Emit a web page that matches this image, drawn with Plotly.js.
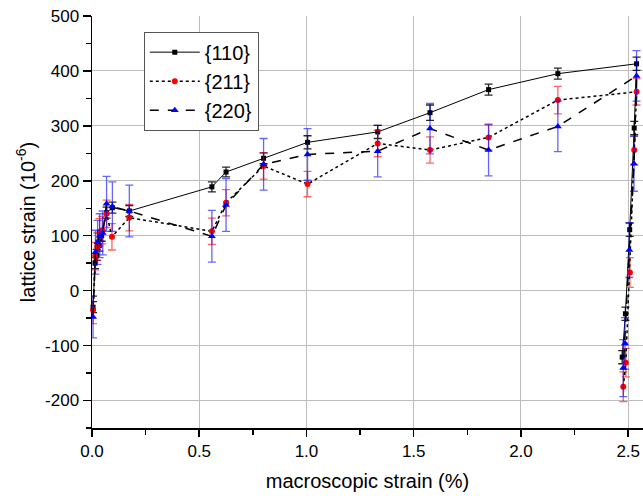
<!DOCTYPE html>
<html>
<head>
<meta charset="utf-8">
<script src="https://cdn.plot.ly/plotly-3.0.1.min.js"></script>
<style>html,body{margin:0;padding:0;background:#fff;}#chart{width:643px;height:496px;}</style>
</head>
<body>
<div id="chart"></div>
<script>
// {110}
const x110 = [0.005, 0.014, 0.022, 0.034, 0.045, 0.068, 0.095, 0.174, 0.559, 0.625, 0.800, 1.005, 1.332, 1.576, 1.849, 2.172, 2.539, 2.528, 2.507, 2.487, 2.472];
const y110 = [-30, 50, 65, 82, 100, 142, 151, 145, 189, 216, 241, 270, 289, 324, 366, 395, 413, 296, 111, -42, -121];
const e110 = [10, 10, 10, 10, 10, 10, 10, 10, 9, 9, 10, 12, 12, 14, 10, 10, 12, 12, 12, 12, 12];
// {211}
const x211 = [0.005, 0.015, 0.025, 0.035, 0.048, 0.068, 0.093, 0.174, 0.559, 0.625, 0.800, 1.005, 1.332, 1.576, 1.849, 2.172, 2.539, 2.528, 2.508, 2.489, 2.477];
const y211 = [-35, 63, 80, 106, 110, 140, 98, 133, 108, 160, 227, 194, 268, 256, 279, 347, 362, 256, 33, -131, -175];
const e211 = [25, 25, 25, 25, 25, 25, 24, 24, 24, 24, 24, 23, 24, 24, 23, 25, 24, 26, 27, 26, 27];
// {220}
const x220 = [0.005, 0.016, 0.026, 0.036, 0.05, 0.068, 0.095, 0.174, 0.559, 0.625, 0.800, 1.005, 1.332, 1.576, 1.849, 2.172, 2.539, 2.527, 2.505, 2.485, 2.477];
const y220 = [-48, 70, 88, 100, 105, 158, 153, 145, 99, 156, 230, 248, 254, 295, 256, 299, 391, 231, 74, -96, -141];
const e220 = [38, 40, 40, 40, 40, 50, 45, 47, 47, 48, 47, 47, 47, 46, 47, 46, 46, 50, 50, 47, 52];

const names = ['{110}', '{211}', '{220}'];
// tick labels
const yTickVals = [-200, -100, 0, 100, 200, 300, 400, 500];
const yTickText = ['-200', '-100', '0', '100', '200', '300', '400', '500'];
const xTickVals = [0, 0.5, 1.0, 1.5, 2.0, 2.5];
const xTickText = ['0.0', '0.5', '1.0', '1.5', '2.0', '2.5'];

const FONT = 'Liberation Sans, Arial, sans-serif';

const traces = [
  {
    x: x110, y: y110, name: names[0], type: 'scatter', mode: 'lines+markers',
    line: {color: '#000', width: 1},
    marker: {symbol: 'square', size: 5, color: '#000'},
    error_y: {type: 'data', array: e110, visible: true, color: 'rgba(0,0,0,0.85)', thickness: 1.3, width: 4},
    cliponaxis: false
  },
  {
    x: x211, y: y211, name: names[1], type: 'scatter', mode: 'lines+markers',
    line: {color: '#000', width: 1.5, dash: 'dot'},
    marker: {symbol: 'circle', size: 6, color: '#ff0000'},
    error_y: {type: 'data', array: e211, visible: true, color: 'rgba(255,0,0,0.6)', thickness: 1.3, width: 4},
    cliponaxis: false
  },
  {
    x: x220, y: y220, name: names[2], type: 'scatter', mode: 'lines+markers',
    line: {color: '#000', width: 1.5, dash: 'dash'},
    marker: {symbol: 'triangle-up', size: 7, color: '#0000ff'},
    error_y: {type: 'data', array: e220, visible: true, color: 'rgba(0,0,255,0.6)', thickness: 1.3, width: 4},
    cliponaxis: false
  }
];

const layout = {
  width: 643, height: 496,
  margin: {l: 92, r: 0, t: 16, b: 68},
  paper_bgcolor: '#fff', plot_bgcolor: '#fff',
  font: {family: FONT, color: '#000', size: 17},
  showlegend: true,
  legend: {
    x: 0.094, y: 0.962, xanchor: 'left', yanchor: 'top',
    bgcolor: '#fff', bordercolor: '#555', borderwidth: 1,
    font: {family: FONT, size: 20, color: '#000'},
    itemwidth: 50,
    tracegroupgap: 0
  },
  xaxis: {
    range: [0, 2.569], tickmode: 'array', tickvals: xTickVals, ticktext: xTickText,
    showline: true, linecolor: '#000', linewidth: 1.5,
    ticks: 'outside', ticklen: 7, tickwidth: 1.5, tickcolor: '#000',
    minor: {dtick: 0.25, tick0: 0, ticks: 'outside', ticklen: 5, tickwidth: 1.5, tickcolor: '#000', showgrid: false},
    showgrid: true, gridcolor: '#bdbdbd', gridwidth: 1,
    zeroline: false,
    tickfont: {family: FONT, size: 17},
    title: {text: 'macroscopic strain (%)', font: {family: FONT, size: 20}, standoff: 14}
  },
  yaxis: {
    range: [-250, 500], tickmode: 'array', tickvals: yTickVals, ticktext: yTickText,
    showline: true, linecolor: '#000', linewidth: 1.5,
    ticks: 'outside', ticklen: 8, tickwidth: 1.5, tickcolor: '#000',
    minor: {dtick: 50, tick0: 0, ticks: 'outside', ticklen: 5, tickwidth: 1.5, tickcolor: '#000', showgrid: false},
    showgrid: true, gridcolor: '#bdbdbd', gridwidth: 1,
    zeroline: false,
    tickfont: {family: FONT, size: 17},
    title: {text: 'lattice strain (10<sup>-6</sup>)', font: {family: FONT, size: 20}, standoff: 4}
  }
};

Plotly.newPlot('chart', traces, layout, {staticPlot: true, displayModeBar: false});
</script>
</body>
</html>
